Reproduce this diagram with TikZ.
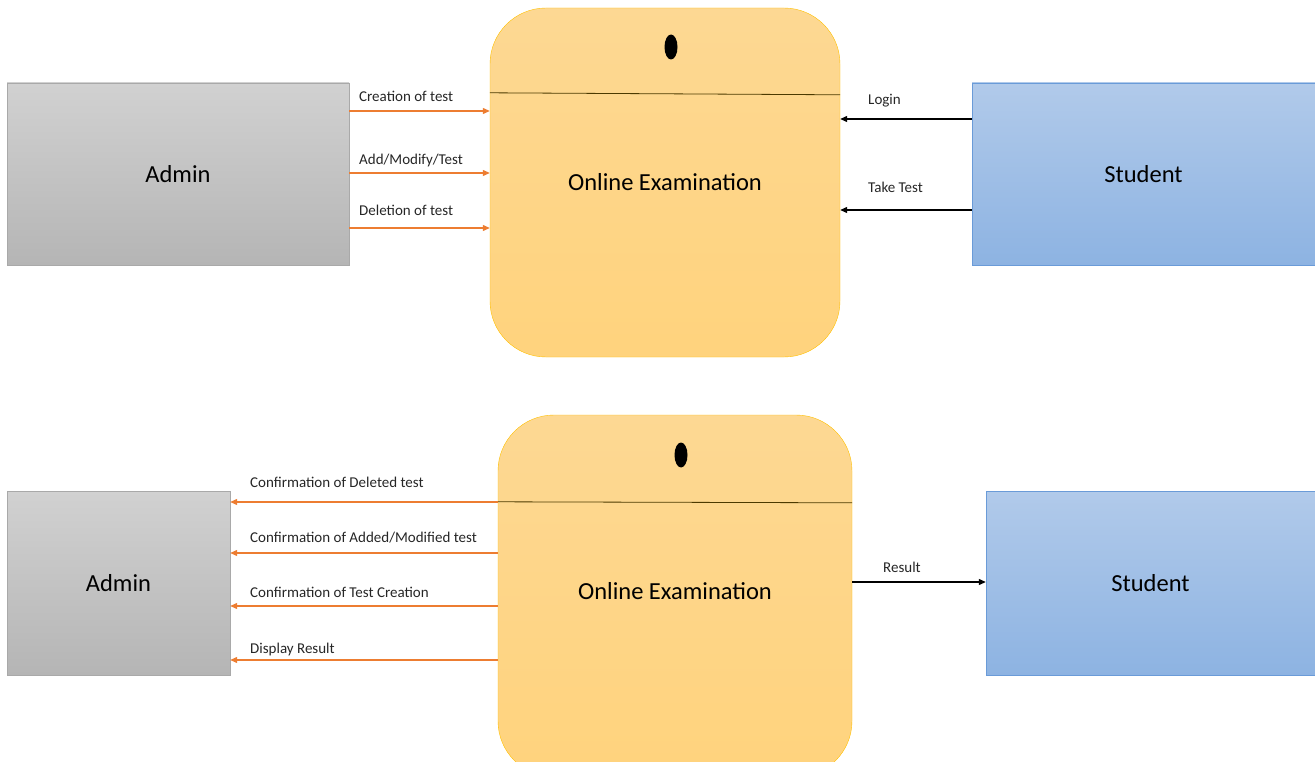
\documentclass[tikz,border=0pt]{standalone}
\usepackage{fontspec}
\setmainfont{Carlito}
\usetikzlibrary{arrows.meta,shapes.geometric}
\definecolor{flowor}{HTML}{ED7D31}
\definecolor{procline}{HTML}{FFC000}
\definecolor{procfill}{HTML}{FDD893}
\definecolor{procfillb}{HTML}{FFD37D}
\definecolor{admtop}{HTML}{D1D1D1}
\definecolor{admbot}{HTML}{B5B5B5}
\definecolor{admline}{HTML}{A9A9A9}
\definecolor{stutop}{HTML}{B1CAEA}
\definecolor{stubot}{HTML}{8DB3E2}
\definecolor{stuline}{HTML}{6A9BD8}
\tikzset{
  admin/.style={draw=admline, top color=admtop, bottom color=admbot, inner sep=0pt, font=\fontsize{24.5}{28}\selectfont},
  student/.style={draw=stuline, top color=stutop, bottom color=stubot, inner sep=0pt, font=\fontsize{24.5}{28}\selectfont},
  process/.style={draw=procline, top color=procfill, bottom color=procfillb, rounded corners=56pt, inner sep=0pt, font=\fontsize{24.5}{28}\selectfont},
  flow/.style={flowor, line width=1.2pt, -{Triangle[length=7pt,width=6pt]}},
  blk/.style={black, line width=1.2pt, -{Triangle[length=7pt,width=6pt]}},
  lbl/.style={font=\fontsize{15}{18}\selectfont, text=black!85, anchor=base west, inner sep=0pt}
}
\begin{document}
\begin{tikzpicture}[x=1pt,y=-1pt]
\clip (0,0) rectangle (1315,762);
% top diagram
\node[admin, minimum width=342pt, minimum height=182pt] (admin1) at (178,174) {Admin};
\node[process, minimum width=350pt, minimum height=349pt] (exam1) at (665,182.5) {Online Examination};
\node[student, minimum width=343pt, minimum height=182pt] (student1) at (1143.5,174) {Student};
\draw[black!70!procline, line width=0.8pt] ([yshift=-85pt]exam1.north west) -- ([yshift=-87pt]exam1.north east);
\node[fill=black, ellipse, minimum width=13pt, minimum height=25pt, inner sep=0pt] (dot1) at (671,47) {};
\draw[flow] ([yshift=63pt]admin1.east) -- ([yshift=63pt]admin1.east -| exam1.west);
\draw[flow] ([yshift=1pt]admin1.east) -- ([yshift=1pt]admin1.east -| exam1.west);
\draw[flow] ([yshift=-54pt]admin1.east) -- ([yshift=-54pt]admin1.east -| exam1.west);
\node[lbl] (l1) at (359,102) {Creation of test};
\node[lbl] (l2) at (359,165) {Add/Modify/Test};
\node[lbl] (l3) at (359,216) {Deletion of test};
\draw[blk] ([yshift=55pt]student1.west) -- ([yshift=55pt]student1.west -| exam1.east);
\draw[blk] ([yshift=-36pt]student1.west) -- ([yshift=-36pt]student1.west -| exam1.east);
\node[lbl] (l4) at (868,105) {Login};
\node[lbl] (l5) at (868,193) {Take Test};
% bottom diagram
\node[admin, minimum width=223pt, minimum height=184pt] (admin2) at (118.5,583) {Admin};
\node[process, minimum width=354pt, minimum height=362pt] (exam2) at (675,596) {};
\node[font=\fontsize{24.5}{28}\selectfont] (txt2) at (675,591) {Online Examination};
\node[student, minimum width=329pt, minimum height=184pt] (student2) at (1150.5,583) {Student};
\draw[black!70!procline, line width=0.8pt] ([yshift=-87pt]exam2.north west) -- ([yshift=-88pt]exam2.north east);
\node[fill=black, ellipse, minimum width=13pt, minimum height=25pt, inner sep=0pt] (dot2) at (681,455) {};
\draw[flow] ([yshift=94pt]exam2.west) -- ([yshift=94pt]exam2.west -| admin2.east);
\draw[flow] ([yshift=43pt]exam2.west) -- ([yshift=43pt]exam2.west -| admin2.east);
\draw[flow] ([yshift=-10pt]exam2.west) -- ([yshift=-10pt]exam2.west -| admin2.east);
\draw[flow] ([yshift=-64pt]exam2.west) -- ([yshift=-64pt]exam2.west -| admin2.east);
\node[lbl] (l6) at (250,487) {Confirmation of Deleted test};
\node[lbl] (l7) at (250,542) {Confirmation of Added/Modified test};
\node[lbl] (l8) at (250,597) {Confirmation of Test Creation};
\node[lbl] (l9) at (250,653) {Display Result};
\draw[blk] ([yshift=1pt]student2.west -| exam2.east) -- ([yshift=1pt]student2.west);
\node[lbl] (l10) at (883,572) {Result};
\end{tikzpicture}
\end{document}
